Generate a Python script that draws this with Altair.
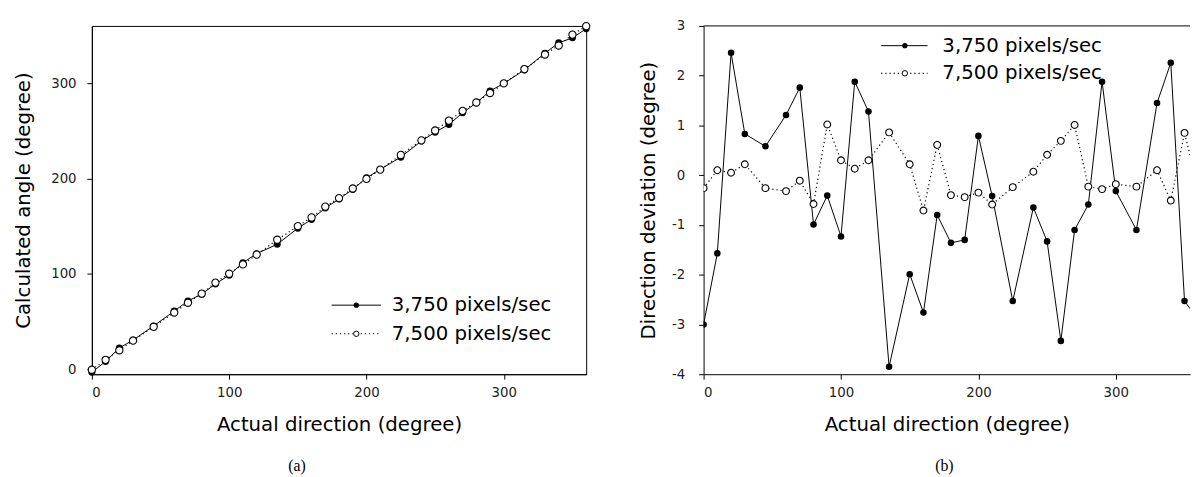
import altair as alt
import pandas as pd

# ---- data ----
actual = [0, 10, 20, 30, 45, 60, 70, 80, 90, 100, 110, 120, 135, 150, 160, 170, 180,
          190, 200, 210, 225, 240, 250, 260, 270, 280, 290, 300, 315, 330, 340, 350, 360]

calc_3750 = [-3.0, 8.4, 22.5, 30.8, 45.6, 61.2, 71.8, 79.0, 89.6, 98.8, 111.9, 121.3, 131.2,
             148.0, 157.2, 169.2, 178.6, 188.7, 200.8, 209.6, 222.5, 239.4, 248.7, 256.7,
             268.9, 279.4, 291.9, 299.7, 313.9, 331.5, 342.3, 347.5, 357.1]
calc_7500 = [-0.3, 10.1, 20.1, 30.2, 44.7, 59.7, 69.9, 79.4, 91.0, 100.3, 110.1, 120.3, 135.9,
             150.2, 159.3, 170.6, 179.6, 189.6, 199.7, 209.4, 224.8, 240.1, 250.4, 260.7,
             271.0, 279.8, 289.7, 299.8, 314.8, 330.1, 339.5, 350.9, 359.8]

dev_3750 = [-3.0, -1.57, 2.46, 0.83, 0.58, 1.21, 1.76, -0.99, -0.41, -1.23, 1.88, 1.28, -3.85,
            -1.99, -2.76, -0.80, -1.36, -1.30, 0.79, -0.42, -2.53, -0.65, -1.33, -3.33,
            -1.10, -0.59, 1.88, -0.32, -1.10, 1.45, 2.26, -2.53, -2.9]
dev_7500 = [-0.26, 0.10, 0.05, 0.22, -0.26, -0.32, -0.11, -0.58, 1.02, 0.30, 0.13, 0.30, 0.86,
            0.22, -0.71, 0.61, -0.40, -0.44, -0.35, -0.59, -0.24, 0.07, 0.41, 0.69,
            1.01, -0.23, -0.28, -0.18, -0.23, 0.10, -0.51, 0.85, -0.25]

series_names = ["3,750 pixels/sec", "7,500 pixels/sec"]
x_ticks = [0, 100, 200, 300]
left_y_ticks = [0, 100, 200, 300]
right_y_ticks = [-4, -3, -2, -1, 0, 1, 2, 3]

df = pd.DataFrame({
    "actual": actual,
    "calc_3750": calc_3750,
    "calc_7500": calc_7500,
    "dev_3750": dev_3750,
    "dev_7500": dev_7500,
})

FONT = "DejaVu Sans"
LEG_FS = 20
one_row = alt.Data(values=[{"k": 1}])


def panel(yfields, x_domain, y_domain, y_ticks, y_title,
          y_label_pad, y_title_pad, y_label_expr, legend_pos, caption, caption_pos, clip,
          psize):
    xenc = alt.X("actual:Q",
                 scale=alt.Scale(domain=x_domain, nice=False, zero=False),
                 axis=alt.Axis(values=x_ticks, title="Actual direction (degree)",
                               labelPadding=7, titlePadding=16, format="d"))
    yaxis_kw = dict(values=y_ticks, title=y_title, labelPadding=y_label_pad,
                    titlePadding=y_title_pad)
    if y_label_expr:
        yaxis_kw["labelExpr"] = y_label_expr

    def yenc(field):
        return alt.Y(f"{field}:Q",
                     scale=alt.Scale(domain=y_domain, nice=False, zero=False),
                     axis=alt.Axis(**yaxis_kw))

    base = alt.Chart(df)
    f1, f2 = yfields
    line1 = base.mark_line(color="black", strokeWidth=1, clip=clip).encode(x=xenc, y=yenc(f1))
    line2 = base.mark_line(color="black", strokeWidth=1.2, strokeDash=[1.2, 3],
                           clip=clip).encode(x=xenc, y=yenc(f2))
    pts1 = base.mark_point(filled=True, color="black", size=psize, opacity=1,
                           clip=clip).encode(x=xenc, y=yenc(f1))
    pts2 = base.mark_point(filled=True, fill="white", stroke="black", strokeWidth=1.1,
                           size=psize + 4, opacity=1, clip=clip).encode(x=xenc, y=yenc(f2))

    lx1, lx2, mx, tx, ry1, ry2 = legend_pos
    leg = [
        alt.Chart(one_row).mark_rule(color="black", strokeWidth=1).encode(
            x=alt.value(lx1), x2=alt.value(lx2), y=alt.value(ry1)),
        alt.Chart(one_row).mark_rule(color="black", strokeWidth=1.2, strokeDash=[1.2, 3]).encode(
            x=alt.value(lx1), x2=alt.value(lx2), y=alt.value(ry2)),
        alt.Chart(one_row).mark_point(filled=True, color="black", size=28, opacity=1).encode(
            x=alt.value(mx), y=alt.value(ry1)),
        alt.Chart(one_row).mark_point(filled=True, fill="white", stroke="black",
                                      strokeWidth=1, size=30, opacity=1).encode(
            x=alt.value(mx), y=alt.value(ry2)),
        alt.Chart(one_row).mark_text(align="left", baseline="middle", font=FONT,
                                     fontSize=LEG_FS, color="black").encode(
            x=alt.value(tx), y=alt.value(ry1), text=alt.value(series_names[0])),
        alt.Chart(one_row).mark_text(align="left", baseline="middle", font=FONT,
                                     fontSize=LEG_FS, color="black").encode(
            x=alt.value(tx), y=alt.value(ry2), text=alt.value(series_names[1])),
        alt.Chart(one_row).mark_text(align="center", baseline="middle",
                                     font="Liberation Serif", fontSize=16,
                                     color="black").encode(
            x=alt.value(caption_pos[0]), y=alt.value(caption_pos[1]),
            text=alt.value(caption)),
    ]
    return [line1, line2, pts1, pts2] + leg


left_layers = panel(["calc_3750", "calc_7500"], [0, 360], [-5, 360], left_y_ticks,
                    "Calculated angle (degree)", 11, 17, None,
                    (243, 293, 268, 304, 283, 312), "(a)", (208, 446), False, 50)
left = alt.layer(*left_layers).properties(
    width=501, height=353,
    view=alt.ViewBackground(stroke="black", strokeWidth=1))

right_layers = panel(["dev_3750", "dev_7500"], [0, 354], [-4, 3], right_y_ticks,
                     "Direction deviation (degree)", 14, 13,
                     "datum.value < 0 ? '-' + abs(datum.value) : '' + datum.value",
                     (180, 227, 204, 242, 20, 48), "(b)", (244, 446), True, 44)
top_line = alt.Chart(one_row).mark_rule(color="black", strokeWidth=1).encode(
    y=alt.datum(3, type="quantitative"))
right = alt.layer(*right_layers, top_line).properties(
    width=493, height=353,
    view=alt.ViewBackground(stroke="transparent"))

chart = alt.hconcat(left, right, spacing=46).properties(
    padding={"left": 5, "top": 7, "right": 0, "bottom": 0},
    background="white",
).configure_axis(
    grid=False,
    domainColor="black",
    domainWidth=1,
    tickColor="black",
    tickSize=5,
    tickWidth=1,
    labelFont=FONT,
    labelFontSize=13.5,
    labelColor="#222222",
    titleFont=FONT,
    titleFontSize=20,
    titleFontWeight="normal",
    titleColor="black",
).configure_view(stroke="black")

chart.save("out.html", embed_options={"renderer": "svg", "actions": False})
